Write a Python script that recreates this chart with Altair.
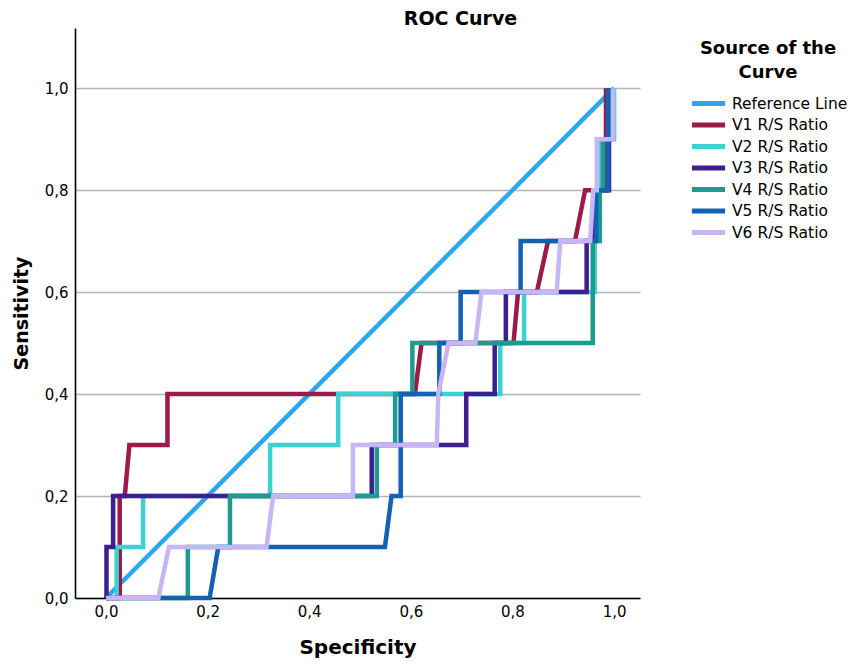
import altair as alt
import pandas as pd

# curve names and colours, in drawing order (reference line at the bottom)
curves = ["Reference Line", "V1 R/S Ratio", "V2 R/S Ratio", "V3 R/S Ratio",
          "V4 R/S Ratio", "V5 R/S Ratio", "V6 R/S Ratio"]
colors = ["#2ea6ee", "#9b1a4b", "#3cd2d2", "#3e1f8e", "#1d9b8e", "#1261b3", "#c7b5f5"]

# points (specificity axis, sensitivity axis)
ref_x = [0.0, 1.0]
ref_y = [0.0, 1.0]

v1_x = [0.0, 0.027, 0.027, 0.037, 0.046, 0.121, 0.121, 0.608, 0.621, 0.802, 0.811,
        0.848, 0.870, 0.923, 0.943, 0.984, 0.984]
v1_y = [0.0, 0.0, 0.2, 0.2, 0.3, 0.3, 0.4, 0.4, 0.5, 0.5, 0.6,
        0.6, 0.7, 0.7, 0.8, 0.8, 1.0]

v2_x = [0.0, 0.021, 0.021, 0.073, 0.073, 0.323, 0.323, 0.457, 0.457, 0.776, 0.776,
        0.823, 0.823, 0.962, 0.962, 0.975, 0.975, 1.0, 1.0]
v2_y = [0.0, 0.0, 0.1, 0.1, 0.2, 0.2, 0.3, 0.3, 0.4, 0.4, 0.5,
        0.5, 0.6, 0.6, 0.8, 0.8, 0.9, 0.9, 1.0]

v3_x = [0.0, 0.001, 0.001, 0.014, 0.014, 0.523, 0.523, 0.709, 0.709, 0.765, 0.765,
        0.787, 0.787, 0.946, 0.946, 0.960, 0.960, 0.990, 0.990]
v3_y = [0.0, 0.0, 0.1, 0.1, 0.2, 0.2, 0.3, 0.3, 0.4, 0.4, 0.5,
        0.5, 0.6, 0.6, 0.7, 0.7, 0.8, 0.8, 1.0]

v4_x = [0.0, 0.161, 0.161, 0.244, 0.244, 0.533, 0.533, 0.569, 0.569, 0.603, 0.603,
        0.958, 0.958, 0.972, 0.972, 0.978, 0.978, 0.995, 0.995]
v4_y = [0.0, 0.0, 0.1, 0.1, 0.2, 0.2, 0.3, 0.3, 0.4, 0.4, 0.5,
        0.5, 0.7, 0.7, 0.8, 0.8, 0.9, 0.9, 1.0]

v5_x = [0.0, 0.204, 0.221, 0.549, 0.562, 0.580, 0.580, 0.656, 0.656, 0.698, 0.698,
        0.816, 0.816, 0.965, 0.965, 0.988, 0.988]
v5_y = [0.0, 0.0, 0.1, 0.1, 0.2, 0.2, 0.4, 0.4, 0.5, 0.5, 0.6,
        0.6, 0.7, 0.7, 0.8, 0.8, 1.0]

v6_x = [0.0, 0.103, 0.124, 0.316, 0.329, 0.486, 0.486, 0.651, 0.654, 0.674, 0.727,
        0.739, 0.887, 0.894, 0.953, 0.959, 0.966, 0.966, 0.998, 0.998]
v6_y = [0.0, 0.0, 0.1, 0.1, 0.2, 0.2, 0.3, 0.3, 0.4, 0.5, 0.5,
        0.6, 0.6, 0.7, 0.7, 0.8, 0.8, 0.9, 0.9, 1.0]

tick_values = [0.0, 0.2, 0.4, 0.6, 0.8, 1.0]

xs_all = [ref_x, v1_x, v2_x, v3_x, v4_x, v5_x, v6_x]
ys_all = [ref_y, v1_y, v2_y, v3_y, v4_y, v5_y, v6_y]
rows = []
for name, xs, ys in zip(curves, xs_all, ys_all):
    for i, (x, y) in enumerate(zip(xs, ys)):
        rows.append({"curve": name, "spec": x, "sens": y, "step": i})
df = pd.DataFrame(rows)

comma_fmt = "replace(format(datum.value, '.1f'), '.', ',')"
FONT = "DejaVu Sans"

chart = alt.Chart(df).mark_line(strokeWidth=4.5, strokeJoin="miter").encode(
    x=alt.X("spec:Q",
            scale=alt.Scale(domain=[-0.061, 1.051], nice=False, zero=False),
            axis=alt.Axis(values=tick_values, labelExpr=comma_fmt, grid=False, ticks=False,
                          title="Specificity", titleFontSize=20, titleFontWeight="bold",
                          titlePadding=18, labelFontSize=15, labelPadding=6,
                          domainColor="black", domainWidth=1.6, labelColor="black",
                          titleColor="black")),
    y=alt.Y("sens:Q",
            scale=alt.Scale(domain=[0, 1.118], nice=False),
            axis=alt.Axis(values=tick_values, labelExpr=comma_fmt, grid=True, ticks=False,
                          gridColor="#b4b4b4", gridWidth=1.5,
                          title="Sensitivity", titleFontSize=19, titleFontWeight="bold",
                          titlePadding=13, labelFontSize=15, labelPadding=7,
                          domainColor="black", domainWidth=1.6, labelColor="black",
                          titleColor="black")),
    color=alt.Color("curve:N",
                    scale=alt.Scale(domain=curves, range=colors),
                    legend=alt.Legend(title=["Source of the", "Curve"], orient="none",
                                      legendX=614, legendY=12, padding=0,
                                      titleFontSize=18, titleFontWeight="bold",
                                      titleAlign="center", titleAnchor="middle",
                                      titleLineHeight=24, titlePadding=13,
                                      labelFontSize=15.5, labelOffset=4, rowPadding=4.5,
                                      clipHeight=17,
                                      symbolType="stroke", symbolSize=1100,
                                      symbolStrokeWidth=5, labelColor="black",
                                      titleColor="black")),
    order="step:Q",
).properties(
    width=565, height=570,
    title=alt.TitleParams("ROC Curve", fontSize=19, fontWeight="bold", anchor="middle",
                          dx=103, offset=-1, color="black"),
    autosize=alt.AutoSizeParams(type="none"),
    padding={"left": 67, "top": 20, "right": 213, "bottom": 61},
).configure(font=FONT).configure_view(stroke=None)

chart.save("out.html", embed_options={"renderer": "svg", "actions": False})
